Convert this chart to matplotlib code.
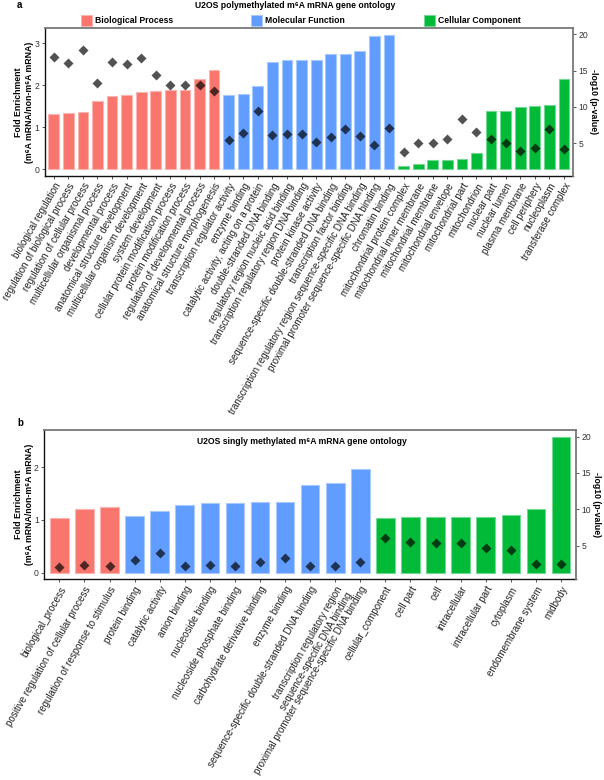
import matplotlib
matplotlib.use('Agg')
import matplotlib.pyplot as plt
from matplotlib.patches import Rectangle
from matplotlib.colors import to_rgb

plt.rcParams['font.family'] = ['Liberation Sans', 'DejaVu Sans']

RED, BLUE, GREEN = '#F8766D', '#619CFF', '#00BA38'

# ---------------- Panel a data ----------------
a_bp_terms = ["biological regulation", "regulation of biological process",
              "regulation of cellular process", "multicellular organismal process",
              "developmental process", "anatomical structure development",
              "multicellular organism development", "system development",
              "cellular protein modification process", "protein modification process",
              "regulation of developmental process", "anatomical structure morphogenesis"]
a_bp_fold = [1.31, 1.33, 1.37, 1.63, 1.74, 1.77, 1.83, 1.86, 1.89, 1.89, 2.14, 2.36]
a_bp_logp = [16.9, 16.1, 17.8, 13.3, 16.2, 15.9, 16.7, 14.4, 13.0, 13.0, 13.0, 12.2]

a_mf_terms = ["transcription regulator activity", "enzyme binding",
              "catalytic activity, acting on a protein", "double-stranded DNA binding",
              "regulatory region nucleic acid binding",
              "transcription regulatory region DNA binding", "protein kinase activity",
              "sequence-specific double-stranded DNA binding", "transcription factor binding",
              "transcription regulatory region sequence-specific DNA binding",
              "proximal promoter sequence-specific DNA binding", "chromatin binding"]
a_mf_fold = [1.77, 1.79, 1.98, 2.55, 2.61, 2.61, 2.61, 2.74, 2.75, 2.81, 3.18, 3.20]
a_mf_logp = [5.45, 6.4, 9.5, 6.15, 6.3, 6.3, 5.2, 5.9, 7.0, 5.95, 4.8, 7.1]

a_cc_terms = ["mitochondrial protein complex", "mitochondrial inner membrane",
              "mitochondrial membrane", "mitochondrial envelope", "mitochondrial part",
              "mitochondrion", "nuclear part", "nuclear lumen", "plasma membrane",
              "cell periphery", "nucleoplasm", "transferase complex"]
a_cc_fold = [0.09, 0.13, 0.21, 0.22, 0.24, 0.40, 1.39, 1.40, 1.48, 1.50, 1.52, 2.16]
a_cc_logp = [3.85, 5.0, 5.1, 5.55, 8.3, 6.55, 5.65, 5.0, 3.95, 4.4, 6.95, 4.15]

# ---------------- Panel b data ----------------
b_bp_terms = ["biological_process", "positive regulation of cellular process",
              "regulation of response to stimulus"]
b_bp_fold = [1.04, 1.20, 1.25]
b_bp_logp = [2.1, 2.4, 2.25]

b_mf_terms = ["protein binding", "catalytic activity", "anion binding",
              "nucleoside binding", "nucleoside phosphate binding",
              "carbohydrate derivative binding", "enzyme binding",
              "sequence-specific double-stranded DNA binding",
              "transcription regulatory region\nsequence-specific DNA binding",
              "proximal promoter sequence-specific DNA binding"]
b_mf_fold = [1.08, 1.18, 1.28, 1.32, 1.32, 1.34, 1.35, 1.66, 1.71, 1.96]
b_mf_logp = [3.0, 3.95, 2.15, 2.35, 2.25, 2.7, 3.3, 2.2, 2.25, 2.7]

b_cc_terms = ["cellular_component", "cell part", "cell", "intracellular",
              "intracellular part", "cytoplasm", "endomembrane system", "midbody"]
b_cc_fold = [1.03, 1.05, 1.05, 1.06, 1.06, 1.09, 1.20, 2.58]
b_cc_logp = [6.05, 5.5, 5.3, 5.3, 4.65, 4.35, 2.5, 2.45]

W, H = 604, 780
fig = plt.figure(figsize=(W / 100, H / 100), dpi=100)


def fbox(l, t, r, b):
    return [l / W, 1 - b / H, (r - l) / W, (b - t) / H]


def lighten(c, f=0.45):
    r, g, b = to_rgb(c)
    return (r + (1 - r) * f, g + (1 - g) * f, b + (1 - b) * f)


def panel(box, groups, ylim_l, ylim_r, yticks_l, yticks_r):
    terms, fold, logp, cols = [], [], [], []
    for t, f, p, c in groups:
        terms += t
        fold += f
        logp += p
        cols += [c] * len(t)
    x = list(range(len(terms)))
    ax = fig.add_axes(fbox(*box))
    ax.bar(x, fold, width=0.74, color=cols,
           edgecolor=[lighten(c) for c in cols], linewidth=0.8, zorder=2)
    ax.set_xlim(-0.6, len(terms) - 0.4)
    ax.set_ylim(*ylim_l)
    ax.set_yticks(yticks_l)
    ax.set_xticks(x)
    ax.set_xticklabels(terms, rotation=60, ha='right', va='top',
                       rotation_mode='anchor', fontsize=7, color='#222222')
    ax.tick_params(axis='y', labelsize=6.2, labelcolor='#333333', length=2.5,
                   width=0.7, color='#555555', pad=1.5)
    ax.tick_params(axis='x', length=2.5, width=0.7, color='#555555', pad=1.5)
    for s in ['left', 'bottom']:
        ax.spines[s].set_color('#111111')
        ax.spines[s].set_linewidth(1.0)
    ax.spines['top'].set_color('#777777')
    ax.spines['top'].set_linewidth(1.3)
    ax.spines['right'].set_visible(False)

    ax2 = ax.twinx()
    ax2.set_ylim(*ylim_r)
    ax2.set_yticks(yticks_r)
    ax2.scatter(x, logp, marker='D', s=26, color='black', alpha=0.68,
                linewidths=0, zorder=3)
    for s in ['left', 'bottom', 'top']:
        ax2.spines[s].set_visible(False)
    ax2.spines['right'].set_color('#777777')
    ax2.spines['right'].set_linewidth(1.3)
    ax2.tick_params(axis='y', labelsize=6.2, labelcolor='#333333', length=2.5,
                    width=0.7, color='#555555', pad=1.5)
    return ax, ax2


# ---------- Panel a ----------
boxA = (45, 28.3, 572.7, 175.7)
panel(boxA,
      [(a_bp_terms, a_bp_fold, a_bp_logp, RED),
       (a_mf_terms, a_mf_fold, a_mf_logp, BLUE),
       (a_cc_terms, a_cc_fold, a_cc_logp, GREEN)],
      (-0.152, 3.357), (0.54, 20.81), [0, 1, 2, 3], [5, 10, 15, 20])

# ---------- Panel b ----------
boxB = (44.3, 430, 576, 579)
axb, axb2 = panel(boxB,
                  [(b_bp_terms, b_bp_fold, b_bp_logp, RED),
                   (b_mf_terms, b_mf_fold, b_mf_logp, BLUE),
                   (b_cc_terms, b_cc_fold, b_cc_logp, GREEN)],
                  (-0.12, 2.708), (0.41, 20.9), [0, 1, 2], [5, 10, 15, 20])

ylab = "Fold Enrichment\n(m\u2076A mRNA/non-m\u2076A mRNA)"
rlab = "-log10 (p-value)"
for (l, t, r, b) in [boxA, boxB]:
    cy = 1 - (t + b) / 2 / H
    fig.text(24 / W, cy, ylab, rotation=90, ha='center', va='center',
             multialignment='center', fontsize=6.3, fontweight='bold',
             linespacing=1.15)
    fig.text((r + 21) / W, cy, rlab, rotation=270, ha='center', va='center',
             fontsize=6.3, fontweight='bold')

# Titles and panel letters
fig.text(295 / W, 1 - 6 / H, "U2OS polymethylated m\u2076A mRNA gene ontology",
         ha='center', va='center', fontsize=6.2, fontweight='bold')
fig.text(302 / W, 1 - 442 / H, "U2OS singly methylated m\u2076A mRNA gene ontology",
         ha='center', va='center', fontsize=6.2, fontweight='bold')
fig.text(17 / W, 1 - 5 / H, "a", ha='left', va='center', fontsize=7, fontweight='bold')
fig.text(17 / W, 1 - 423 / H, "b", ha='left', va='center', fontsize=7, fontweight='bold')

# Legend
legend_items = [("Biological Process", RED, 81), ("Molecular Function", BLUE, 251),
                ("Cellular Component", GREEN, 424)]
for lab, c, x0 in legend_items:
    fig.patches.append(Rectangle((x0 / W, 1 - 26 / H), 11 / W, 11 / H,
                                 transform=fig.transFigure, facecolor=c,
                                 edgecolor=lighten(c), linewidth=0.6))
    fig.text((x0 + 14) / W, 1 - 20.5 / H, lab, ha='left', va='center',
             fontsize=6.2, fontweight='bold')

fig.savefig('out.png', dpi=100)
